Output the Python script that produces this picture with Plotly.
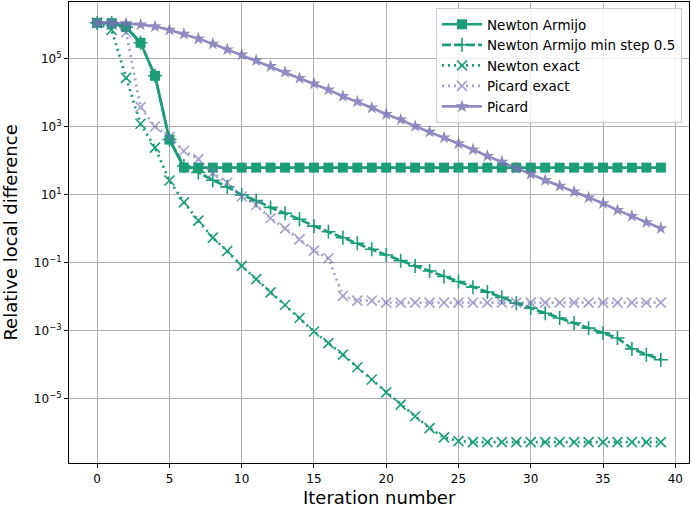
import plotly.graph_objects as go

iters = list(range(40))

# log10 values
newton_armijo_log = [6.056, 6.05, 5.93, 5.47, 4.50, 2.625] + [1.80] * 34
newton_min_step_log = [6.056, 6.05, 5.93, 5.47, 4.50, 2.625, 1.85, 1.66, 1.43, 1.235,
                       1.00, 0.83, 0.63, 0.455, 0.28, 0.08, -0.085, -0.26, -0.425, -0.60,
                       -0.77, -0.935, -1.09, -1.24, -1.40, -1.55, -1.715, -1.86, -2.01, -2.185,
                       -2.33, -2.48, -2.62, -2.77, -2.92, -3.06, -3.21, -3.53, -3.70, -3.85]
newton_exact_log = [6.056, 5.85, 4.44, 3.09, 2.39, 1.42, 0.78, 0.24, -0.26, -0.65,
                    -1.09, -1.48, -1.87, -2.24, -2.62, -3.02, -3.36, -3.70, -4.07, -4.43,
                    -4.81, -5.17, -5.51, -5.86, -6.13, -6.24, -6.27, -6.27, -6.27, -6.27,
                    -6.27, -6.27, -6.27, -6.27, -6.27, -6.27, -6.27, -6.27, -6.27, -6.27]
picard_exact_log = [6.056, 6.0, 5.78, 3.58, 3.01, 2.70, 2.29, 2.05, 1.64, 1.355,
                    0.95, 0.70, 0.31, 0.015, -0.31, -0.64, -0.865, -1.97, -2.11, -2.11,
                    -2.17, -2.17, -2.17, -2.17, -2.17, -2.17, -2.17, -2.17, -2.17, -2.17,
                    -2.17, -2.17, -2.17, -2.17, -2.17, -2.17, -2.17, -2.17, -2.17, -2.17]
picard_log = [6.056, 6.056, 6.04, 6.006, 5.95, 5.85, 5.73, 5.59, 5.44, 5.27,
              5.12, 4.95, 4.78, 4.61, 4.43, 4.27, 4.09, 3.90, 3.74, 3.56,
              3.37, 3.21, 3.02, 2.85, 2.68, 2.51, 2.33, 2.14, 1.97, 1.79,
              1.61, 1.43, 1.26, 1.09, 0.92, 0.75, 0.55, 0.375, 0.19, 0.015]

y_tick_exps = [-5, -3, -1, 1, 3, 5]
x_tick_vals = [0, 5, 10, 15, 20, 25, 30, 35, 40]


def to_val(lst):
    return [10 ** v for v in lst]


GREEN = "#1b9e77"
PURPLE = "#7570b3"

fig = go.Figure()
fig.add_trace(go.Scatter(
    x=iters, y=to_val(newton_armijo_log), name="Newton Armijo", mode="lines+markers",
    line=dict(color=GREEN, width=2.7),
    marker=dict(symbol="square", size=10, color=GREEN)))
fig.add_trace(go.Scatter(
    x=iters, y=to_val(newton_min_step_log), name="Newton Armijo min step 0.5", mode="lines+markers",
    line=dict(color=GREEN, width=2.7, dash="9px,3px"),
    marker=dict(symbol="cross-thin", size=10, color=GREEN, line=dict(color=GREEN, width=1.6))))
fig.add_trace(go.Scatter(
    x=iters, y=to_val(newton_exact_log), name="Newton exact", mode="lines+markers",
    line=dict(color=GREEN, width=2.7, dash="2px,4px"),
    marker=dict(symbol="x-thin", size=10, color=GREEN, line=dict(color=GREEN, width=1.6))))
fig.add_trace(go.Scatter(
    x=iters, y=to_val(picard_exact_log), name="Picard exact", mode="lines+markers",
    opacity=0.65,
    line=dict(color=PURPLE, width=2.7, dash="2px,4px"),
    marker=dict(symbol="x-thin", size=10, color=PURPLE, line=dict(color=PURPLE, width=1.6))))
fig.add_trace(go.Scatter(
    x=iters, y=to_val(picard_log), name="Picard", mode="lines+markers",
    opacity=0.8,
    line=dict(color=PURPLE, width=2.7),
    marker=dict(symbol="star", size=10, color=PURPLE)))

font_family = "DejaVu Sans"
fig.update_layout(
    width=691, height=507,
    margin=dict(l=69, r=2, t=2, b=44, autoexpand=False),
    paper_bgcolor="white", plot_bgcolor="white",
    font=dict(family=font_family, size=12, color="black"),
    showlegend=True,
    legend=dict(x=0.9887, y=0.987, xanchor="right", yanchor="top",
                bgcolor="rgba(255,255,255,0.8)", bordercolor="#cccccc", borderwidth=1,
                font=dict(size=13.5, family=font_family), tracegroupgap=0,
                itemwidth=40),
    annotations=[
        dict(text="Iteration number", x=0.5, y=-0.074, xref="paper", yref="paper",
             xanchor="center", yanchor="middle", showarrow=False,
             font=dict(size=18, family=font_family)),
        dict(text="Relative local difference", x=-0.095, y=0.5, xref="paper", yref="paper",
             xanchor="center", yanchor="middle", showarrow=False, textangle=-90,
             font=dict(size=18, family=font_family)),
    ],
)
fig.update_xaxes(
    range=[-1.95, 40.95], tickvals=x_tick_vals, automargin=False,
    showgrid=True, gridcolor="#b0b0b0", gridwidth=0.8,
    showline=True, linecolor="black", linewidth=1.2, mirror=True,
    ticks="outside", ticklen=4, tickcolor="black", zeroline=False,
    tickfont=dict(size=12),
)
fig.update_yaxes(
    type="log", range=[-6.885, 6.67], automargin=False,
    tickvals=[10 ** e for e in y_tick_exps],
    ticktext=["10<sup>%s</sup>" % (str(e).replace("-", "\u2212")) for e in y_tick_exps],
    showgrid=True, gridcolor="#b0b0b0", gridwidth=0.8,
    showline=True, linecolor="black", linewidth=1.2, mirror=True,
    ticks="outside", ticklen=4, tickcolor="black", zeroline=False,
    tickfont=dict(size=12),
)

fig.write_html("out.html", config={"displayModeBar": False},
               post_script="document.body.style.margin='0';document.body.style.overflow='hidden';")
